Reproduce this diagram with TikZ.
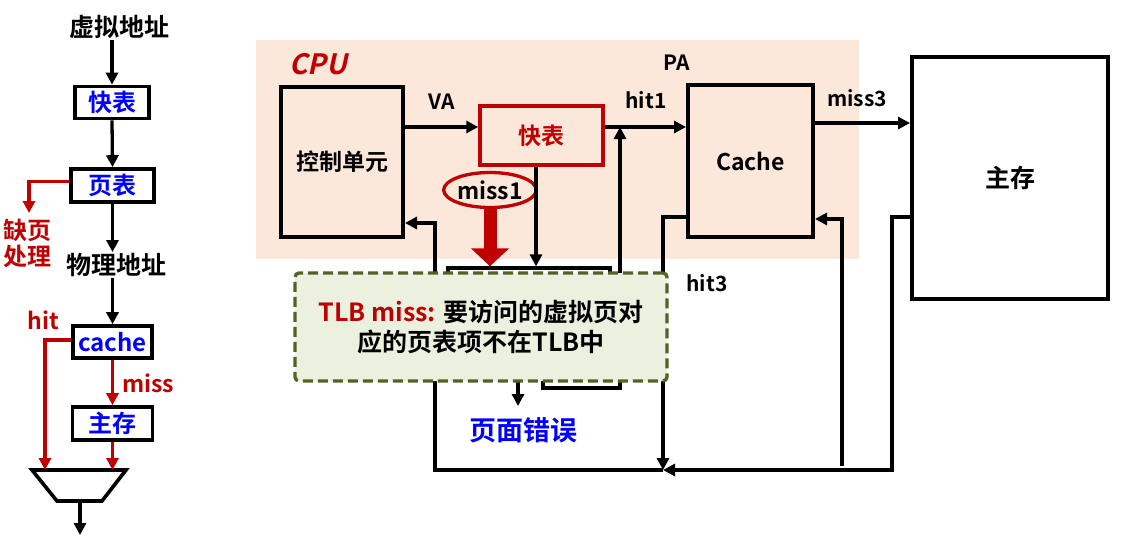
\documentclass[tikz,border=0pt]{standalone}
\usepackage{fontspec}
\setmainfont{Noto Sans CJK SC}[BoldFont={Noto Sans CJK SC Bold}]
\newfontfamily\slantfont{Noto Sans CJK SC Bold}[FakeSlant=0.22]
\usetikzlibrary{arrows.meta,shapes.geometric}
\definecolor{myred}{HTML}{C00000}
\definecolor{myblue}{HTML}{0000FF}
\definecolor{cpubg}{HTML}{FCE8DA}
\definecolor{notefill}{HTML}{EBF1DE}
\definecolor{notedraw}{HTML}{4F6228}
\begin{document}
\begin{tikzpicture}[x=1pt,y=-1pt,
  txt/.style={font=\bfseries\fontsize{25}{30}\selectfont, inner sep=1pt},
  lbl/.style={font=\bfseries\fontsize{21}{24}\selectfont, inner sep=1pt},
  lbox/.style={draw, line width=3.6pt, inner sep=0pt, text=myblue, font=\bfseries\fontsize{24}{28}\selectfont},
  bbox/.style={draw, line width=4pt, inner sep=0pt, font=\bfseries\fontsize{23}{28}\selectfont},
  arr/.style={line width=3.3pt, -{Triangle[length=12pt,width=12pt]}},
  rarr/.style={arr, draw=myred},
]
\useasboundingbox (0,0) rectangle (1134,536);

% ---------------- left flow ----------------
\node[txt] (vaddr) at (119,27) {虚拟地址};
\node[lbox, minimum width=74, minimum height=32] (ltlb) at (112,102.5) {快表};
\node[lbox, minimum width=83, minimum height=33] (lpt) at (112.5,185.5) {页表};
\node[txt, text=myred, align=center, font=\bfseries\fontsize{24}{26}\selectfont] (lfault) at (28,243) {缺页\\处理};
\node[txt] (paddr) at (116,265) {物理地址};
\node[lbox, minimum width=79, minimum height=32] (lcache) at (112.5,342) {cache};
\node[lbox, minimum width=80, minimum height=33] (lmem) at (112.5,423.5) {主存};
\node[lbl, text=myred, font=\bfseries\fontsize{23}{26}\selectfont] (lhit) at (43,320) {hit};
\node[lbl, text=myred, font=\bfseries\fontsize{23}{26}\selectfont] (lmiss) at (148,383) {miss};

\draw[line width=3.6pt, line join=miter] (32,470) -- (126,470) -- (102,501) -- (57,501) -- cycle;
\coordinate (muxA) at (45,470);
\coordinate (muxB) at (112.5,470);
\coordinate (muxO) at (80,501);
\coordinate (muxEnd) at (80,535);
\coordinate (pfEnd) at (29,213);

\draw[arr] (vaddr.south -| ltlb.north) -- (ltlb.north);
\draw[arr] (ltlb.south) -- (lpt.north);
\draw[rarr] ([yshift=4pt]lpt.west) -| (pfEnd);
\draw[arr] (lpt.south) -- (paddr.north -| lpt.south);
\draw[arr] (paddr.south -| lcache.north) -- (lcache.north);
\draw[rarr] ([yshift=2pt]lcache.west) -| (muxA);
\draw[rarr] (lcache.south) -- (lmem.north);
\draw[rarr] (lmem.south) -- (muxB);
\draw[arr] (muxO) -- (muxEnd);

% ---------------- right diagram ----------------
\node[fill=cpubg, minimum width=603, minimum height=219, inner sep=0pt] (cpu) at (557.5,149.5) {};
\node[font=\slantfont\fontsize{28}{30}\selectfont, text=myred, inner sep=1pt] (cpulbl) at (318,64) {CPU};

\node[bbox, minimum width=122, minimum height=150] (ctrl) at (342,162) {控制单元};
\node[bbox, draw=myred, line width=3.5pt, text=myred, minimum width=123, minimum height=59] (tlb) at (541.5,135.5) {快表};
\node[bbox, minimum width=125, minimum height=152, font=\bfseries\fontsize{23}{26}\selectfont] (cache) at (750.5,161) {Cache};
\node[bbox, minimum width=196, minimum height=242, font=\bfseries\fontsize{25}{30}\selectfont] (mem) at (1010,178) {主存};
\node[draw, line width=3.3pt, minimum width=162, minimum height=110, inner sep=0pt] (pt) at (529,323) {};
\node[ellipse, draw=myred, line width=3.3pt, minimum width=90, minimum height=35, inner sep=0pt, font=\bfseries\fontsize{23}{26}\selectfont] (miss1) at (490,190) {miss1};

\coordinate (hitj) at (620,127);
\coordinate (pth) at (543,388);
\coordinate (merge) at (663,470);
\coordinate (fbc) at (435,470);
\coordinate (mcorner) at (892,470);
\coordinate (fillc) at (842,466);
\coordinate (pfa) at (518,406);

\draw[arr] (ctrl.east |- 0,127) -- (tlb.west |- 0,127);
\draw[arr] (tlb.east |- 0,127) -- (cache.west |- 0,127);
\draw[arr] (cache.east |- 0,123) -- (mem.west |- 0,123);
\draw[arr] (tlb.south -| 536,0) -- (pt.north -| 536,0);
\draw[arr] (pt.south -| pth) -- (pth) -| (hitj);
\draw[arr] (cache.west |- 0,217) -| (merge);
\draw[arr] (mem.west |- 0,217) -| (mcorner) -- (merge);
\draw[arr] (fillc) |- (cache.east |- 0,219);
\draw[arr] (merge) -- (fbc) |- (ctrl.east |- 0,223);
\draw[arr] (pt.south -| pfa) -- (pfa);

\node[draw=notedraw, fill=notefill, line width=3.3pt, dash pattern=on 10pt off 5pt, rounded corners=4pt,
      minimum width=372, minimum height=108, inner sep=0pt, align=center,
      font=\bfseries\fontsize{25}{30}\selectfont] (note) at (481,327)
      {{\color{myred}TLB miss:} 要访问的虚拟页对\\应的页表项不在TLB中};

\draw[draw=myred, line width=13pt, -{Triangle[length=18pt,width=37pt]}] (miss1.south) -- (pt.north -| miss1.south);

\node[txt, text=myblue, font=\bfseries\fontsize{27}{30}\selectfont] (pfault) at (523,430) {页面错误};

\node[lbl] (lva) at (442,102) {VA};
\node[lbl] (lhit1) at (646,100) {hit1};
\node[lbl] (lpa) at (677,63) {PA};
\node[lbl] (lmiss3) at (857,98) {miss3};
\node[lbl] (lhit3) at (707,283) {hit3};
\end{tikzpicture}
\end{document}
